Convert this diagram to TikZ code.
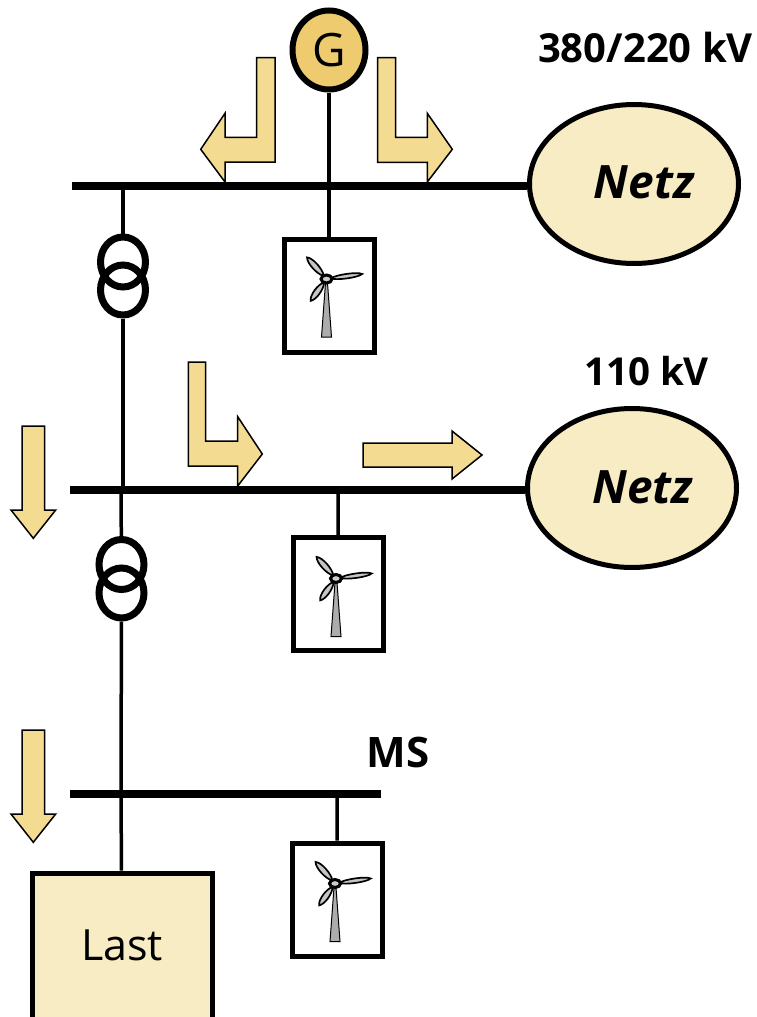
\documentclass[tikz,border=0pt]{standalone}
\usepackage{fontspec}
\setmainfont{Open Sans}
\usetikzlibrary{shapes.geometric}
\definecolor{flowfill}{HTML}{F3DB92}
\definecolor{genfill}{HTML}{EFCB70}
\definecolor{netfill}{HTML}{F7ECC4}
\tikzset{
    bus/.style={line width=8pt},
    wire/.style={line width=3.5pt},
    flow/.style={draw, line width=1.5pt, fill=flowfill, line join=miter},
    coil/.style={draw, ellipse, line width=7pt, minimum width=45pt, minimum height=50pt, inner sep=0pt},
    netz/.style={draw, ellipse, line width=5pt, fill=netfill, minimum width=209pt, minimum height=159pt},
    windbox/.style={draw, line width=5pt, fill=white, minimum width=90pt, minimum height=113pt, inner sep=0pt},
    volt/.style={font=\fontsize{#1}{#1}\selectfont\bfseries},
    netzlabel/.style={font=\fontsize{46}{46}\selectfont\bfseries\itshape},
    turbine/.pic={
        \draw [line width=1pt, fill=gray!65] (-5,58) -- (-1,4) -- (1,4) -- (5,58) -- cycle;
        \foreach \ang/\len/\wid in {132/29/4, 8/36/3, 234/27/4}
            \draw [rotate=\ang, line width=1.7pt, fill=gray!45] (4,0) .. controls (10,\wid) and (\len-4,\wid) .. (\len,0) .. controls (\len-4,-\wid) and (10,-\wid) .. (4,0);
        \draw [line width=3pt, fill=gray!40] (0,0) ellipse (5.5pt and 4pt);
    },
}
\begin{document}
\begin{tikzpicture}[x=1pt, y=-1pt]
    \useasboundingbox (0,0) rectangle (757,1017);

    \coordinate (B1w) at (72,186);
    \coordinate (B2w) at (70,490);
    \coordinate (B3w) at (70,794);
    \coordinate (B3e) at (381,794);
    \coordinate (T1) at (123,186);
    \coordinate (T2) at (121,490);
    \coordinate (T2u) at (123,490);
    \coordinate (T3) at (121,794);
    \coordinate (W1) at (329,186);
    \coordinate (W2) at (338,490);
    \coordinate (W3) at (337,794);

    \node [netz] (N1) at (634,184) {};
    \node [netz] (N2) at (632,488) {};
    \node [draw, ellipse, line width=6pt, fill=genfill, minimum width=73pt, minimum height=79pt, inner sep=0pt, font=\fontsize{46}{46}\selectfont] (G) at (329,50) {G};
    \node [netzlabel] (N1t) at (644,182) {Netz};
    \node [netzlabel] (N2t) at (642.5,487) {Netz};

    \node [windbox] (WB1) at (329,295.5) {};
    \node [windbox] (WB2) at (338.5,594) {};
    \node [windbox] (WB3) at (337.5,899.5) {};
    \pic at (326.5,279) {turbine};
    \pic at (336,578.5) {turbine};
    \pic at (335,883.5) {turbine};

    \node [draw, line width=5pt, fill=netfill, minimum width=180pt, minimum height=160pt] (L) at (122,953) {};
    \node [font=\fontsize{43}{43}\selectfont] (Lt) at (122,945) {Last};

    \draw [wire] (G) -- (W1);
    \draw [wire] (W1) -- (WB1);
    \draw [wire] (W2) -- (WB2);
    \draw [wire] (W3) -- (WB3);

    \node [coil] (C1a) at (123,262) {};
    \node [coil] (C1b) at (123,290) {};
    \node [coil] (C2a) at (121.5,564.5) {};
    \node [coil] (C2b) at (121.5,593) {};

    \draw [wire] (T1) -- (C1a);
    \draw [wire] (C1b) -- (T2u);
    \draw [wire] (T2) -- (C2a);
    \draw [wire] (C2b) -- (T3);
    \draw [wire] (T3) -- (L);

    \draw [bus] (B1w) -- (N1.west |- B1w);
    \draw [bus] (B2w) -- (N2.west |- B2w);
    \draw [bus] (B3w) -- (B3e);

    \draw [flow] (256.7,57.7) -- (275,57.7) -- (275,162) -- (225,162) -- (225,182) -- (200.7,149.3) -- (225,113.3) -- (225,137.3) -- (256.7,137.3) -- cycle;
    \draw [flow] (377.7,57.7) -- (395.7,57.7) -- (395.7,137.3) -- (427.3,137.3) -- (427.3,113.3) -- (452.3,149.3) -- (427.3,182) -- (427.3,162.3) -- (377.7,162.3) -- cycle;
    \draw [flow] (188.3,362) -- (205.7,362) -- (205.7,441) -- (237.7,441) -- (237.7,416.7) -- (262.3,454) -- (237.7,486) -- (237.7,466) -- (188.3,466) -- cycle;
    \draw [flow] (363,443) -- (452,443) -- (452,431) -- (482,455) -- (452,479) -- (452,467) -- (363,467) -- cycle;
    \draw [flow] (22,426) -- (44.7,426) -- (44.7,510) -- (55.7,510) -- (33.3,538.3) -- (11,510) -- (22,510) -- cycle;
    \draw [flow] (22,730) -- (44.7,730) -- (44.7,814) -- (55.7,814) -- (33.3,842.3) -- (11,814) -- (22,814) -- cycle;

    \node [volt=40] (V1) at (645.5,47) {380/220 kV};
    \node [volt=38.5] (V2) at (646.5,371) {110 kV};
    \node [volt=42] (V3) at (398,752) {MS};
\end{tikzpicture}
\end{document}
